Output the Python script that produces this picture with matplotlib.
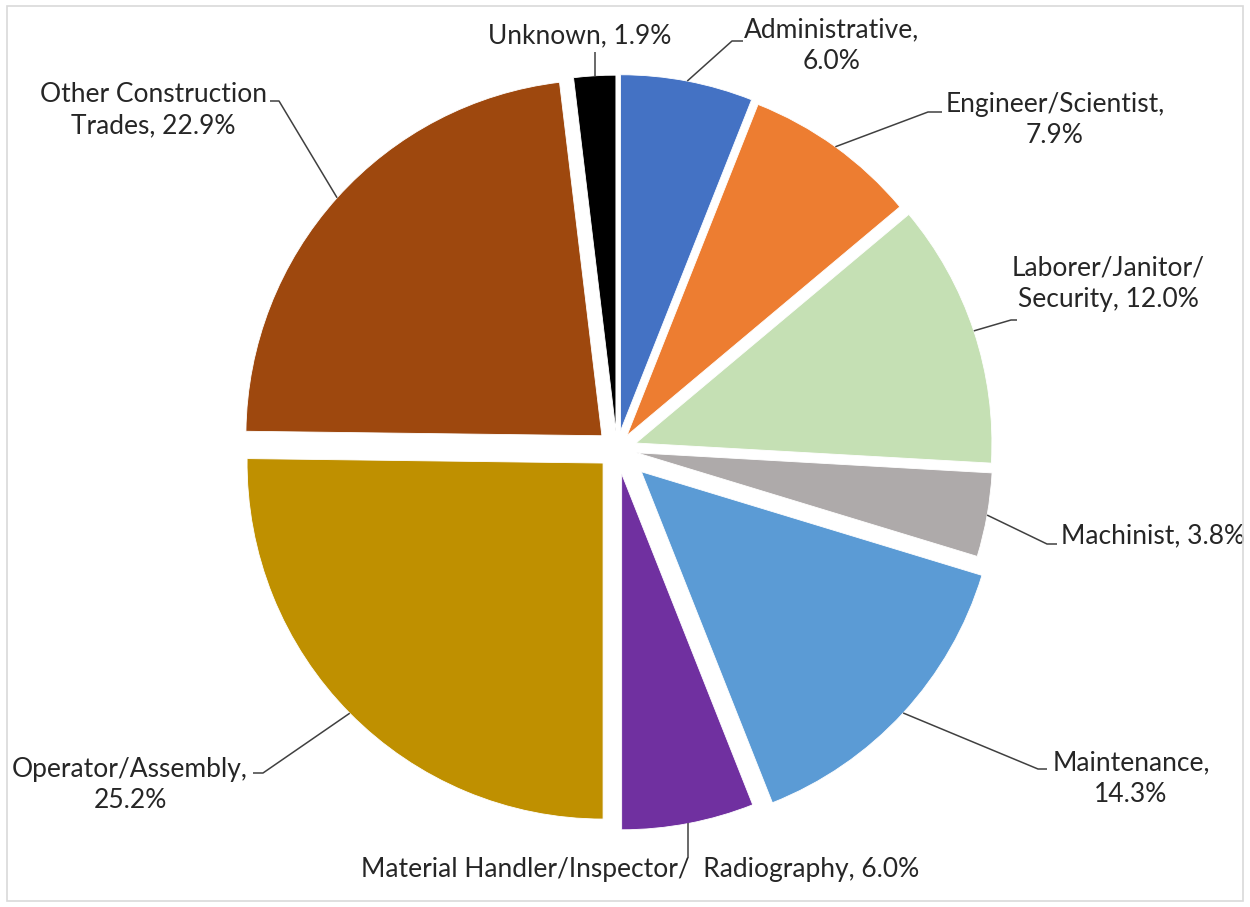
import numpy as np
import matplotlib
matplotlib.use("Agg")
import matplotlib.pyplot as plt
from matplotlib.patches import Rectangle

# Occupational categories, clockwise from 12 o'clock
categories = [
    "Administrative",
    "Engineer/Scientist",
    "Laborer/Janitor/\nSecurity",
    "Machinist",
    "Maintenance",
    "Material Handler/Inspector/  Radiography",
    "Operator/Assembly",
    "Other Construction\nTrades",
    "Unknown",
]
shares = [6.0, 7.9, 12.0, 3.8, 14.3, 6.0, 25.2, 22.9, 1.9]
colors = ["#4472C4", "#ED7D31", "#C5E0B4", "#AEAAAA", "#5B9BD5",
          "#7030A0", "#BF9000", "#9E480E", "#000000"]
# separator between category name and percentage in each data label
label_sep = [",\n", ",\n", ", ", ", ", ",\n", ", ", ",\n", ", ", ", "]
explode = [0.053, 0.048, 0.056, 0.056, 0.093, 0.070, 0.055, 0.057, 0.051]

# Canvas geometry (pixels)
W, H = 1250, 907
CX, CY = 617.0, 449.3   # pie centre
R = 356.0               # pie radius

# Label block centres, alignment, and leader-line elbows (pixels)
label_pos = [(832, 46), (1055, 120), (1108, 284), (1061, 536), (1131, 779),
             (640, 870), (130, 785), (153, 110), (580, 36)]
label_ha = ["center", "center", "center", "left", "center",
            "center", "center", "center", "center"]
elbows = [(732, 41), (928, 112), (1011, 320), (1047, 544), (1038, 769),
          (None, 857), (263, 773), (279, 101), (None, 52)]
ticks = [11, 14, 6, 10, 9, 0, -10, -9, 0]


def to_data(x, y):
    return (x - CX) / R, (CY - y) / R


plt.rcParams["font.family"] = ["Lato", "DejaVu Sans"]
fig = plt.figure(figsize=(W / 100, H / 100), dpi=100)
ax = fig.add_axes([0, 0, 1, 1])

wedges, _ = ax.pie(shares, colors=colors, explode=explode, startangle=90,
                   counterclock=False, radius=1.0,
                   wedgeprops=dict(edgecolor="white", linewidth=0.6))

ax.set_xlim(-CX / R, (W - CX) / R)
ax.set_ylim(-(H - CY) / R, CY / R)
ax.set_aspect("auto")
ax.axis("off")

text_color = "#262626"
line_color = "#404040"
for w, name, val, sep, (lx, ly), ha, (ex, ey), tk in zip(
        wedges, categories, shares, label_sep, label_pos, label_ha, elbows, ticks):
    mid = np.deg2rad((w.theta1 + w.theta2) / 2)
    cx, cy = w.center
    sx, sy = cx + w.r * np.cos(mid), cy + w.r * np.sin(mid)
    if ex is None:
        exd, eyd = sx, to_data(0, ey)[1]
        ax.plot([sx, exd], [sy, eyd], color=line_color, lw=1.1,
                solid_capstyle="butt")
    else:
        exd, eyd = to_data(ex, ey)
        tx, _ = to_data(ex + tk, ey)
        ax.plot([sx, exd, tx], [sy, eyd, eyd], color=line_color, lw=1.1,
                solid_capstyle="butt")
    tx, ty = to_data(lx, ly)
    ax.text(tx, ty, f"{name}{sep}{val:.1f}%", ha=ha, va="center",
            multialignment="center", fontsize=19, color=text_color,
            linespacing=1.33)

fig.patches.append(Rectangle((7 / W, 1 - 901 / H), 1236 / W, 895 / H,
                             transform=fig.transFigure, fill=False,
                             edgecolor="#D9D9D9", linewidth=1.2))

fig.savefig("out.png", dpi=100, facecolor="white")
